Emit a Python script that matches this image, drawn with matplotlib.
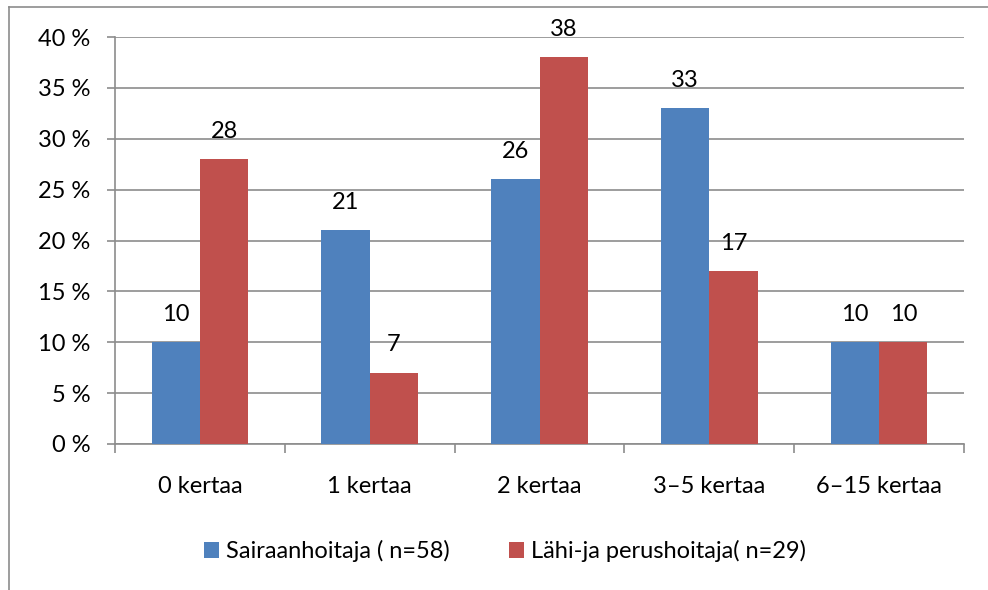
import matplotlib
matplotlib.use("Agg")
import matplotlib.pyplot as plt
import numpy as np
from matplotlib.lines import Line2D

categories = ["0 kertaa", "1 kertaa", "2 kertaa", "3–5 kertaa", "6–15 kertaa"]
series_names = ["Sairaanhoitaja ( n=58)", "Lähi-ja perushoitaja( n=29)"]
sairaanhoitaja = [10, 21, 26, 33, 10]
lahihoitaja = [28, 7, 38, 17, 10]
yticks = [0, 5, 10, 15, 20, 25, 30, 35, 40]

plt.rcParams['font.family'] = ['Lato', 'DejaVu Sans']
fs = 17

fig = plt.figure(figsize=(9.88, 5.90), dpi=100)
ax = fig.add_axes([115/988, 1-444/590, (964-115)/988, (444-37)/590])

x = np.arange(len(categories))
w = 0.285
colors = ["#4F81BD", "#C0504D"]
b1 = ax.bar(x - w/2, sairaanhoitaja, w, color=colors[0], label=series_names[0], zorder=3)
b2 = ax.bar(x + w/2, lahihoitaja, w, color=colors[1], label=series_names[1], zorder=3)

for bars, vals in ((b1, sairaanhoitaja), (b2, lahihoitaja)):
    for r, v in zip(bars, vals):
        ax.annotate(str(v), (r.get_x() + r.get_width()/2, v), xytext=(0, 20),
                    textcoords="offset points", ha="center", va="center", fontsize=fs, color="black")

ax.set_xlim(-0.5, len(categories) - 0.5)
ax.set_ylim(0, 40)
ax.set_yticks(yticks)
ax.set_yticklabels([f"{t} %" for t in yticks], fontsize=fs)
ax.yaxis.grid(True, color="#8c8c8c", linewidth=1.2, zorder=0)
ax.tick_params(axis="y", length=5.8, color="#8c8c8c", width=1.2, pad=12)

ax.set_xticks(x)
ax.set_xticklabels(categories, fontsize=fs)
ax.tick_params(axis="x", length=0, pad=23)
ax.set_xticks(np.arange(-0.5, len(categories), 1), minor=True)
ax.tick_params(axis="x", which="minor", length=6.5, color="#8c8c8c", width=1.2)

for s in ["top", "right"]:
    ax.spines[s].set_visible(False)
for s in ["left", "bottom"]:
    ax.spines[s].set_color("#8c8c8c")
    ax.spines[s].set_linewidth(1.2)

leg = fig.legend(handles=[b1, b2], labels=series_names, loc="center", bbox_to_anchor=(505/988, 1-551/590),
                 ncol=2, frameon=False, fontsize=fs, handlelength=0.65, handleheight=0.65,
                 handletextpad=0.3, columnspacing=2.5)

# outer chart frame
fig.add_artist(Line2D([8.5/988, 1], [1-7/590, 1-7/590], color="#8c8c8c", linewidth=1.2, transform=fig.transFigure))
fig.add_artist(Line2D([8.5/988, 8.5/988], [0, 1-7/590], color="#8c8c8c", linewidth=1.2, transform=fig.transFigure))

fig.savefig("out.png", dpi=100)
